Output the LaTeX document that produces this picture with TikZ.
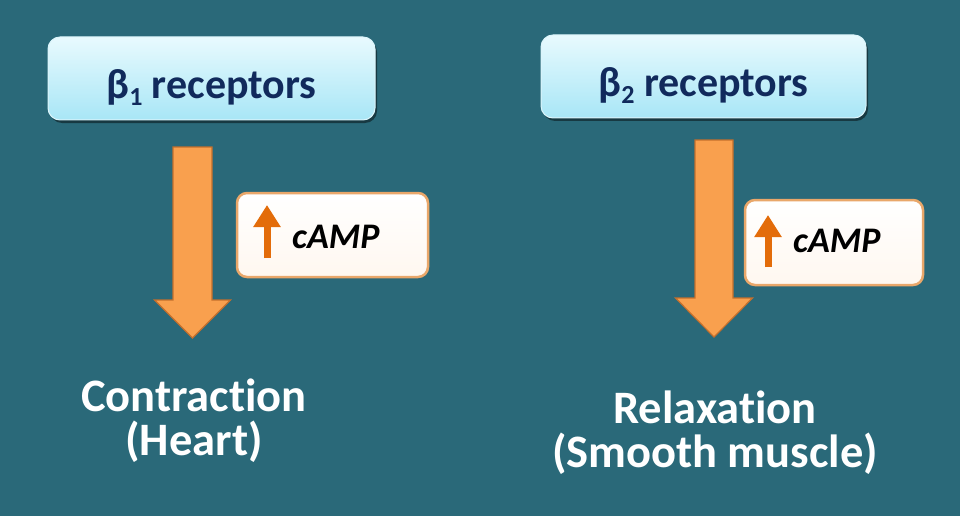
\documentclass[tikz,border=0pt]{standalone}
\usepackage{fontspec}
\setmainfont{Carlito}[RawFeature=-liga]
\usetikzlibrary{shadows,arrows.meta,calc}
\definecolor{bg}{HTML}{2A6979}
\definecolor{boxtop}{HTML}{E8FAFE}
\definecolor{boxbot}{HTML}{A8E6F6}
\definecolor{navy}{HTML}{112A5C}
\definecolor{orangeA}{HTML}{F9A04E}
\definecolor{orangeB}{HTML}{C46F2C}
\definecolor{campedge}{HTML}{E9A76A}
\definecolor{uparrow}{HTML}{E36C0A}
\newcommand{\subsc}[1]{\raisebox{-7pt}{\fontsize{26}{26}\selectfont #1}}
\begin{document}
\begin{tikzpicture}[x=1pt,y=-1pt,
 recbox/.style={draw=white!60!boxbot, line width=1pt, rounded corners=12pt,
   top color=boxtop, bottom color=boxbot,
   drop shadow={shadow xshift=2pt,shadow yshift=-3pt,opacity=0.45,fill=black},
   inner sep=0pt, text height=40pt, text depth=0pt,
   font=\fontsize{42}{50}\selectfont\bfseries, text=navy},
 campbox/.style={draw=campedge, line width=2.5pt, rounded corners=10pt,
   top color=white, bottom color=orange!6, inner sep=0pt},
 camptext/.style={font=\fontsize{36}{40}\selectfont\bfseries\itshape, text=black,
   inner sep=0pt, anchor=base west},
 bigarrow/.style={fill=orangeA, draw=orangeB, line width=1.2pt, line join=miter},
 smallarrow/.style={draw=uparrow, line width=7pt, -{Triangle[width=26pt,length=22pt]}},
 outcome/.style={font=\fontsize{46.5}{44}\selectfont\bfseries, text=white,
   align=center, inner sep=0pt, anchor=base}]
\fill[bg] (0,0) rectangle (960,516);
\useasboundingbox (0,0) rectangle (960,516);

% receptor boxes
\node[recbox, minimum width=327pt, minimum height=83pt] (b1) at (211.5,78.5) {β\subsc{1} receptors};
\node[recbox, minimum width=325pt, minimum height=83pt] (b2) at (703.5,76.5) {β\subsc{2} receptors};

% big arrows
\coordinate (a1s) at (192.5,147);
\coordinate (a1e) at (192.5,338);
\draw[bigarrow] ($(a1s)+(-19.5,0)$) -- ($(a1s)+(19.5,0)$) -- ($(a1e)+(19.5,-38)$)
  -- ($(a1e)+(38,-38)$) -- (a1e) -- ($(a1e)+(-38,-38)$) -- ($(a1e)+(-19.5,-38)$) -- cycle;
\coordinate (a2s) at (714,140);
\coordinate (a2e) at (714,337);
\draw[bigarrow] ($(a2s)+(-19,0)$) -- ($(a2s)+(19,0)$) -- ($(a2e)+(19,-39)$)
  -- ($(a2e)+(38.5,-39)$) -- (a2e) -- ($(a2e)+(-38.5,-39)$) -- ($(a2e)+(-19,-39)$) -- cycle;

% cAMP boxes
\node[campbox, minimum width=191pt, minimum height=84pt] (c1) at (332.5,235) {};
\coordinate (u1b) at (267,258);
\coordinate (u1t) at (267,205);
\draw[smallarrow] (u1b) -- (u1t);
\node[camptext] (t1) at (292,248) {cAMP};

\node[campbox, minimum width=178pt, minimum height=85pt] (c2) at (834,242.5) {};
\coordinate (u2b) at (768,267);
\coordinate (u2t) at (768,215);
\draw[smallarrow] (u2b) -- (u2t);
\node[camptext] (t2) at (793,252) {cAMP};

% outcomes (base anchor = last line)
\node[outcome] (o1) at (194,455) {Contraction\\(Heart)};
\node[outcome] (o2) at (715,467) {Relaxation\\(Smooth muscle)};
\end{tikzpicture}
\end{document}
